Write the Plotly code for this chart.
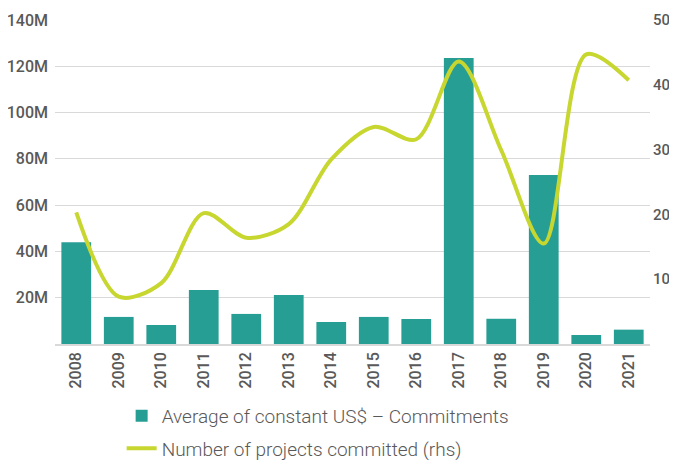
import plotly.graph_objects as go

years = ["2008", "2009", "2010", "2011", "2012", "2013", "2014",
         "2015", "2016", "2017", "2018", "2019", "2020", "2021"]
avg_commitments = [44.0e6, 11.7e6, 8.2e6, 23.3e6, 13.0e6, 21.2e6, 9.5e6,
                   11.7e6, 10.8e6, 123.6e6, 10.9e6, 73.0e6, 3.9e6, 6.2e6]
num_projects = [20.3, 7.3, 9.4, 20.2, 16.4, 18.5, 28.5,
                33.5, 31.6, 43.6, 29.9, 15.5, 44.7, 40.7]

left_ticks = [20e6, 40e6, 60e6, 80e6, 100e6, 120e6, 140e6]
left_labels = ["20M", "40M", "60M", "80M", "100M", "120M", "140M"]
right_ticks = [10, 20, 30, 40, 50]

grey = "#595959"
tick_font = dict(family="Roboto", size=16, color=grey, weight=500)

fig = go.Figure()
fig.add_trace(go.Bar(x=years, y=avg_commitments, legendgroup="a",
                     name="Average of constant US$ – Commitments",
                     marker=dict(color="#279e94", line_width=0)))
fig.add_trace(go.Scatter(x=years, y=num_projects, yaxis="y2", mode="lines", legendgroup="b",
                         name="Number of projects committed (rhs)",
                         line=dict(color="#c8d630", width=4, shape="spline", smoothing=0.9)))

# page body has an 8px margin, so the figure is sized to fit the 677x461 window
fig.update_layout(
    width=669, height=453,
    margin=dict(l=47, r=27, t=12, b=117, autoexpand=False),
    plot_bgcolor="white", paper_bgcolor="white",
    bargap=0.3,
    showlegend=True,
    legend=dict(x=0.112, y=-0.163, xanchor="left", yanchor="top", orientation="v",
                font=dict(family="Roboto", size=19, color=grey, weight=300),
                itemwidth=30, tracegroupgap=5),
    xaxis=dict(tickangle=-90, tickfont=tick_font, showline=True, linecolor="#d9d9d9",
               linewidth=1.5, ticks="", showgrid=False, automargin=False),
    yaxis=dict(range=[0, 140e6], tickvals=left_ticks, ticktext=left_labels,
               tickfont=tick_font, showgrid=True, gridcolor="#d9d9d9", gridwidth=1,
               zeroline=False, ticks="", ticklabelstandoff=6, automargin=False),
    yaxis2=dict(range=[0, 50], tickvals=right_ticks, overlaying="y", side="right",
                tickfont=dict(family="Roboto", size=15, color=grey, weight=500),
                showgrid=False, zeroline=False, ticks="",
                ticklabelstandoff=2, automargin=False),
)

fig.write_html("out.html")
